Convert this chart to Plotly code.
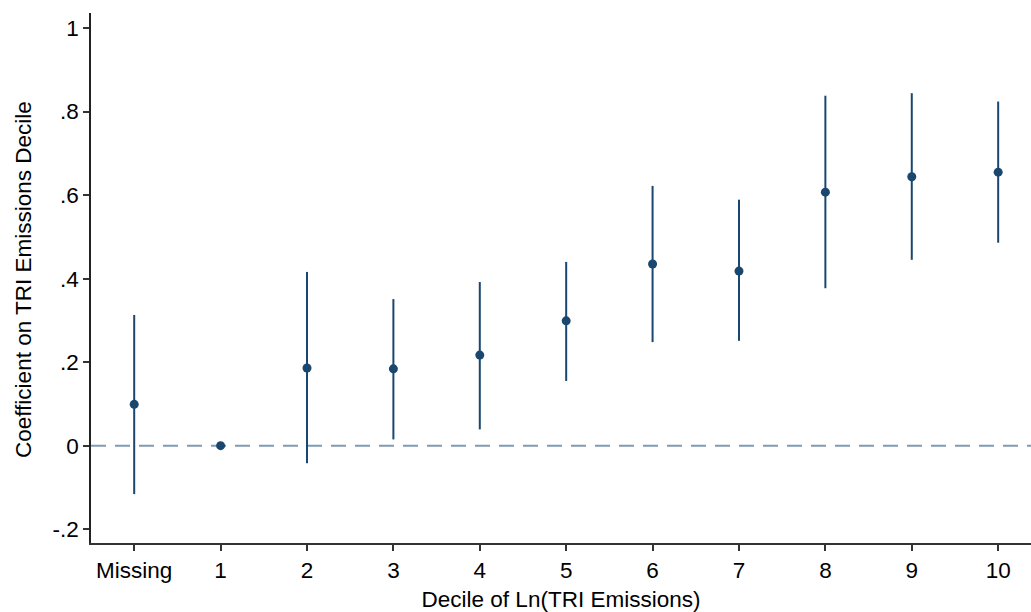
import plotly.graph_objects as go

# Decile categories and point estimates with 95% confidence bounds
deciles = ["Missing", "1", "2", "3", "4", "5", "6", "7", "8", "9", "10"]
coef = [0.099, 0.0, 0.186, 0.184, 0.217, 0.299, 0.435, 0.418, 0.607, 0.644, 0.655]
ci_upper = [0.313, 0.0, 0.416, 0.351, 0.392, 0.440, 0.622, 0.589, 0.838, 0.844, 0.824]
ci_lower = [-0.116, 0.0, -0.042, 0.015, 0.039, 0.155, 0.248, 0.251, 0.377, 0.445, 0.486]

y_tickvals = [-0.2, 0, 0.2, 0.4, 0.6, 0.8, 1]
y_ticktext = ["-.2", "0", ".2", ".4", ".6", ".8", "1"]

navy = "#1a476f"
xpos = list(range(len(deciles)))

fig = go.Figure()
fig.add_trace(go.Scatter(
    x=xpos,
    y=coef,
    mode="markers",
    marker=dict(color=navy, size=9),
    error_y=dict(
        type="data",
        symmetric=False,
        array=[u - c for u, c in zip(ci_upper, coef)],
        arrayminus=[c - l for c, l in zip(coef, ci_lower)],
        color=navy,
        thickness=2,
        width=0,
    ),
    showlegend=False,
))

# Zero reference line
fig.add_shape(type="line", xref="paper", yref="y", x0=0, x1=1, y0=0, y1=0,
              line=dict(color="#7f9bb3", width=2, dash="15px,9px"), layer="below")

fs = 22.5

# Vertical axis title placed as a rotated annotation
fig.add_annotation(
    text="Coefficient on TRI Emissions Decile",
    xref="paper", yref="paper", x=0, y=0.5,
    xshift=-68, yshift=-2,
    xanchor="center", yanchor="middle",
    textangle=-90, showarrow=False,
    font=dict(size=fs, color="black"),
)

fig.update_layout(
    width=1031, height=612,
    margin=dict(l=91, r=0, t=13, b=69),
    paper_bgcolor="white", plot_bgcolor="white",
    font=dict(family="Liberation Sans, Arial, sans-serif", size=fs, color="black"),
    xaxis=dict(
        range=[-0.5, 10.38],
        tickvals=xpos, ticktext=deciles,
        showgrid=False, zeroline=False,
        showline=True, linecolor="#333333", linewidth=1.5,
        ticks="outside", ticklen=6, tickcolor="#333333", tickwidth=1.5,
        tickfont=dict(size=fs),
        title=dict(text="Decile of Ln(TRI Emissions)", standoff=10,
                   font=dict(size=fs)),
    ),
    yaxis=dict(
        range=[-0.233, 1.036],
        tickvals=y_tickvals, ticktext=y_ticktext,
        showgrid=False, zeroline=False,
        showline=True, linecolor="#222222", linewidth=1.5,
        ticks="outside", ticklen=6, tickcolor="#333333", tickwidth=1.5,
        tickfont=dict(size=fs),
    ),
)

fig.write_html("out.html")
